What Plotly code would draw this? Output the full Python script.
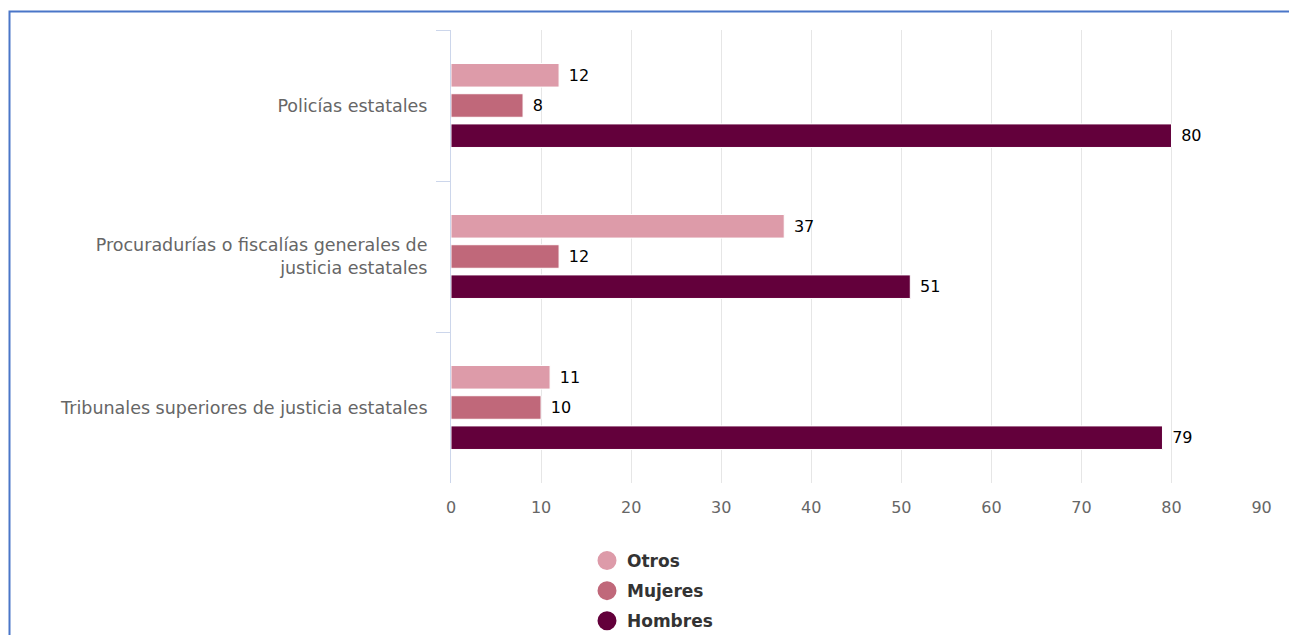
import plotly.graph_objects as go

categories = ["Policías estatales",
              "Procuradurías o fiscalías generales de<br>justicia estatales",
              "Tribunales superiores de justicia estatales"]
series_names = ["Otros", "Mujeres", "Hombres"]
otros = [12, 37, 11]
mujeres = [8, 12, 10]
hombres = [80, 51, 79]
colors = ["#DD9BA9", "#C0687A", "#63003B"]
x_ticks = [0, 10, 20, 30, 40, 50, 60, 70, 80, 90]

FONT = "DejaVu Sans"
fig = go.Figure()
for name, vals, col in zip(series_names, [otros, mujeres, hombres], colors):
    fig.add_trace(go.Bar(
        y=categories, x=vals, name=name, orientation="h",
        marker=dict(color=col, line=dict(color="white", width=1)),
        text=vals, texttemplate=" \u200a%{x}", textposition="outside",
        textfont=dict(family=FONT, size=16, color="#000000"),
        cliponaxis=False, showlegend=False, hoverinfo="x+name"))
for name, col in zip(series_names, colors):
    fig.add_trace(go.Scatter(
        x=[None], y=[None], mode="markers", name=name, legendgroup=name,
        marker=dict(color=col, size=16, symbol="circle",
                    line=dict(color=col, width=3))))

# page body has an 8px margin: figure coords = screen coords - 8
OFF = 8
W, H = 1297 - OFF, 643 - 2 * OFF
L, T = 451 - OFF, 30 - OFF
R = W - (1262 - OFF)
B = H - (483 - OFF)
pw, ph = W - L - R, H - T - B
def px_x(sx):
    return (sx - OFF - L) / pw
def px_y(sy):
    return (H - B - (sy - OFF)) / ph

fig.update_layout(
    width=W, height=H,
    margin=dict(l=L, r=R, t=T, b=B, autoexpand=False),
    paper_bgcolor="white", plot_bgcolor="white",
    barmode="group", bargap=0.4, bargroupgap=0.22,
    font=dict(family=FONT),
    legend=dict(x=px_x(587), y=px_y(543), xanchor="left", yanchor="top",
                font=dict(family=FONT, size=17, color="#333333", weight="bold"),
                itemsizing="trace", tracegroupgap=5, traceorder="grouped"),
    xaxis=dict(range=[0, 90.05], tickvals=x_ticks, showgrid=True, gridcolor="#e6e6e6",
               gridwidth=1, zeroline=False, showline=False, ticks="",
               tickfont=dict(family=FONT, size=16, color="#666666"),
               ticklabelstandoff=13, fixedrange=True),
    yaxis=dict(autorange="reversed", showgrid=False, zeroline=False,
               showline=True, linecolor="#ccd6eb", linewidth=1,
               ticks="outside", tickson="boundaries", ticklen=14, tickcolor="#ccd6eb",
               tickfont=dict(family=FONT, size=17.5, color="#666666"),
               ticklabelstandoff=19),
    shapes=[dict(type="rect", xref="paper", yref="paper",
                 x0=px_x(9.5), x1=px_x(1320), y0=px_y(670), y1=px_y(11.5),
                 line=dict(color="#4a76c8", width=2), layer="above")],
)
fig.write_html("out.html")
